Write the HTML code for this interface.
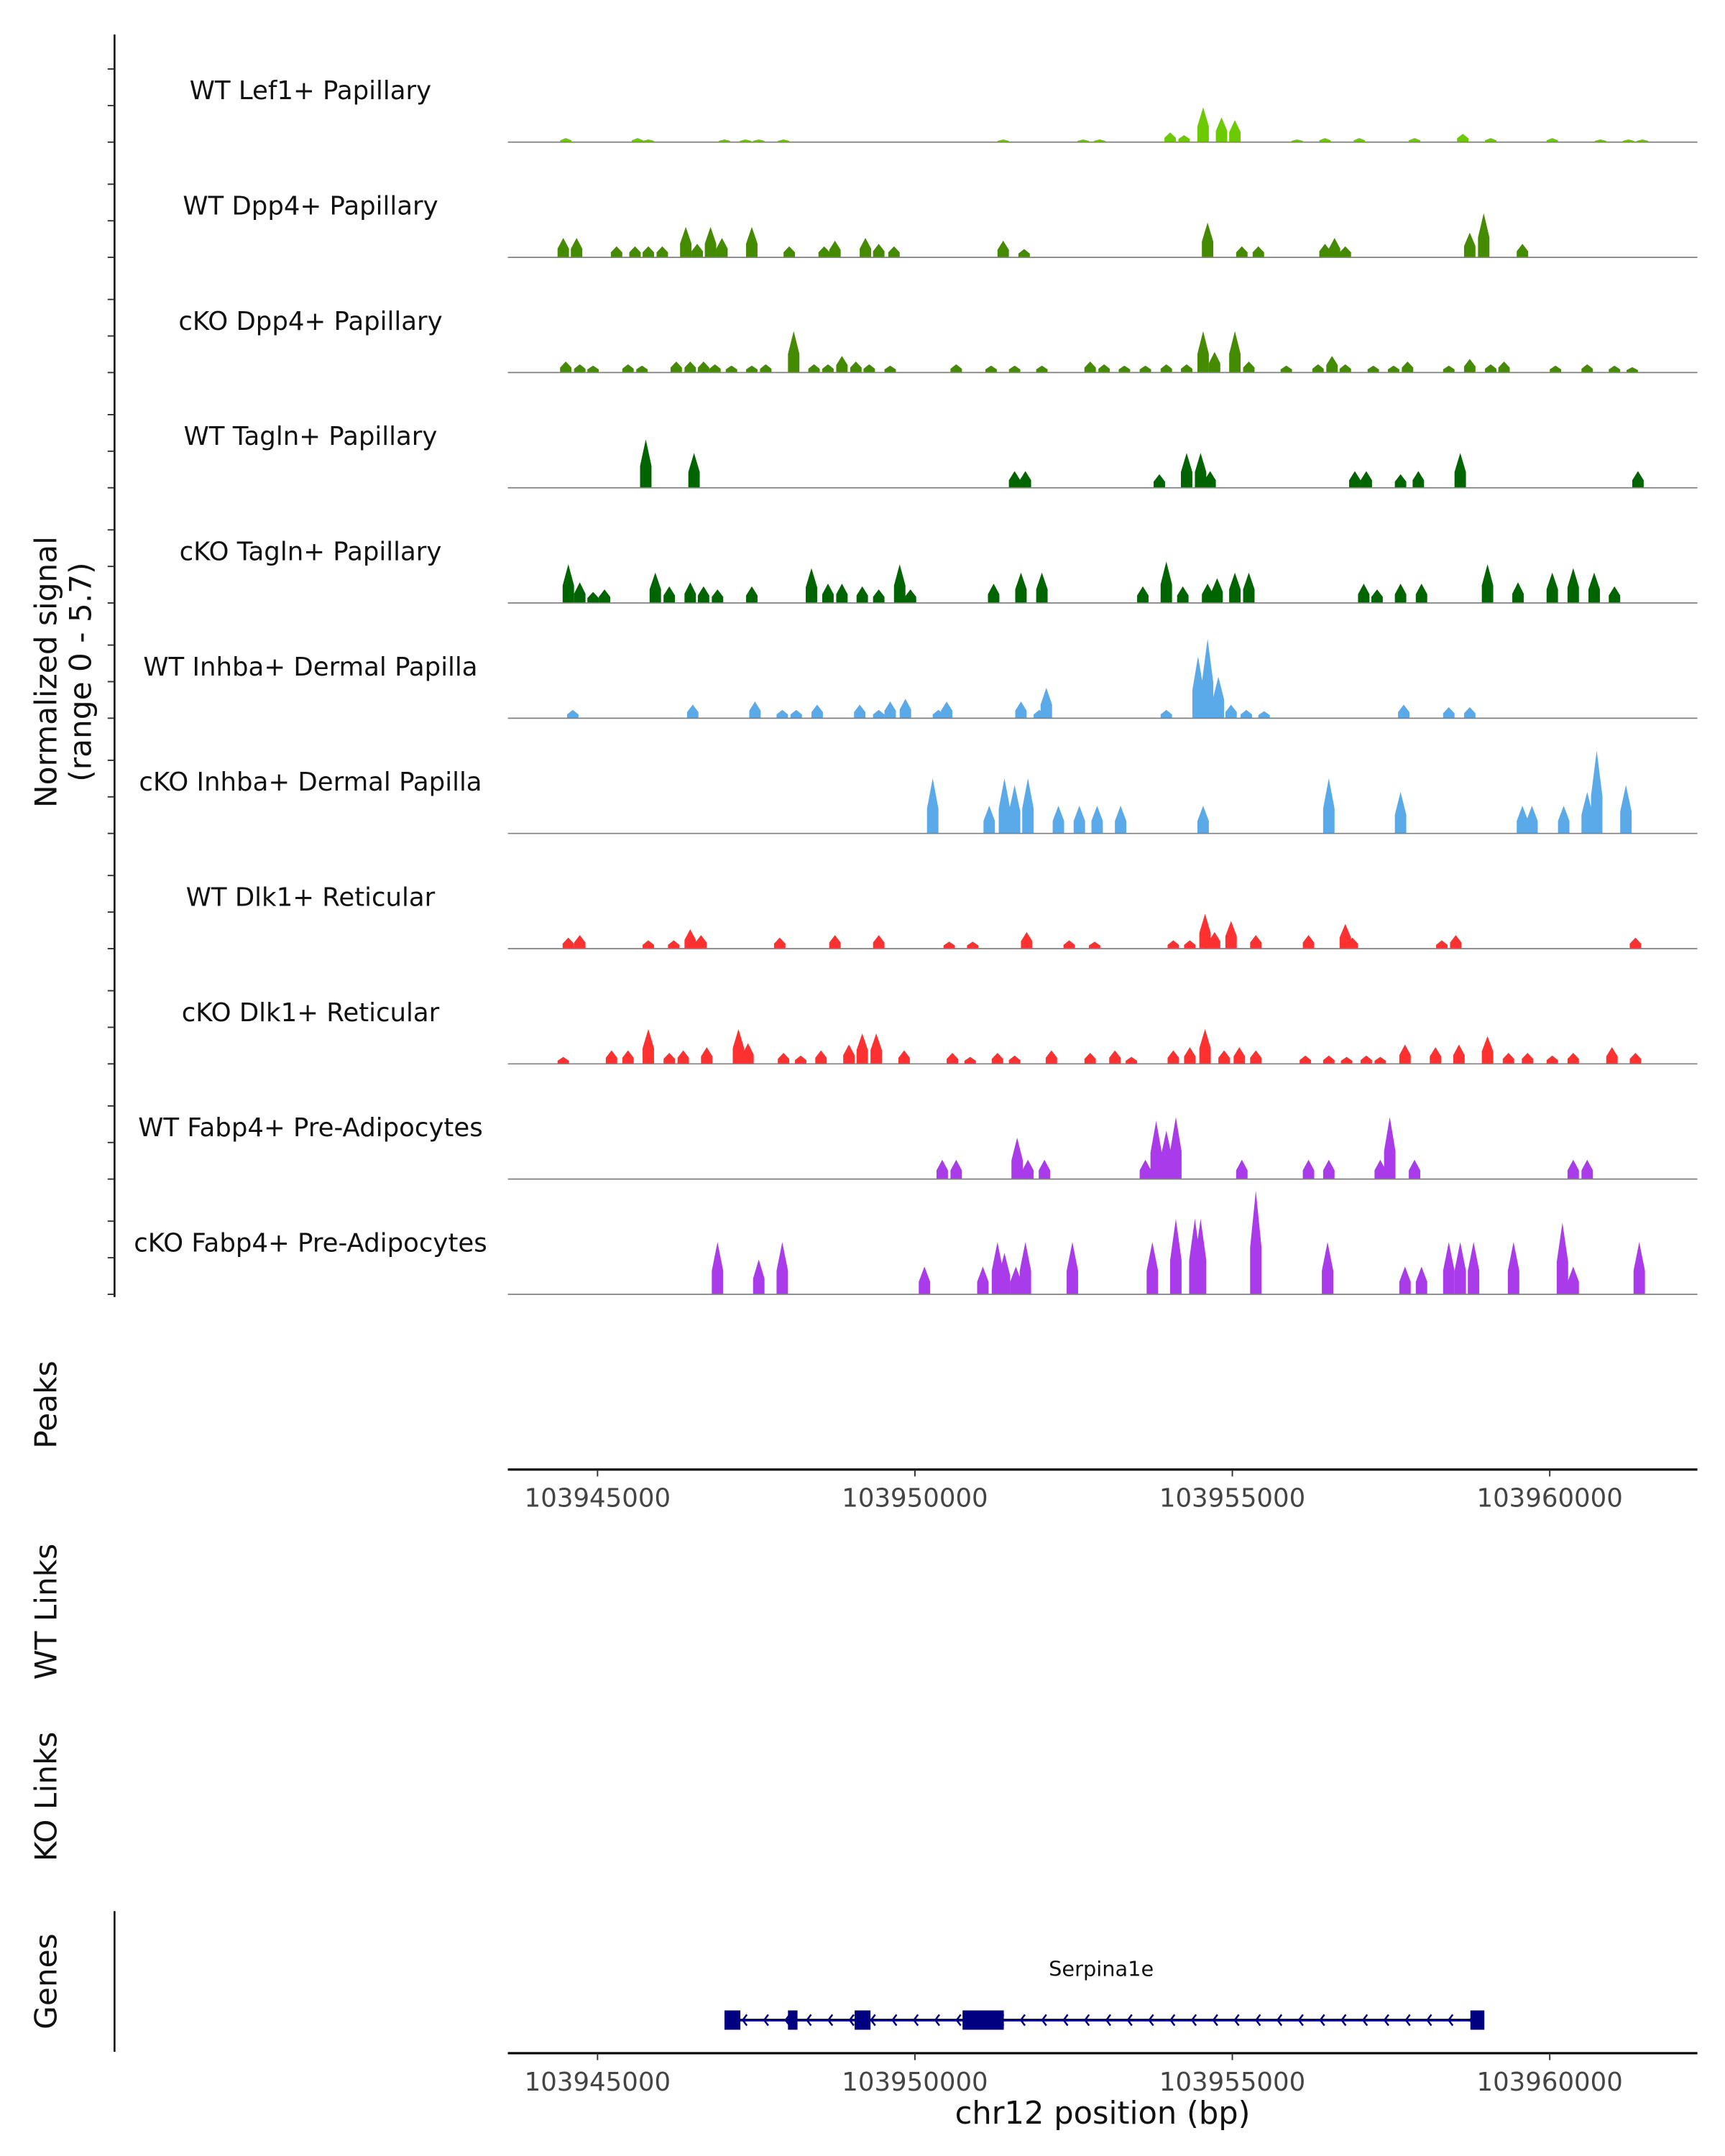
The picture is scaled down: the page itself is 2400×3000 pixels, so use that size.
<!DOCTYPE html>
<html><head><meta charset="utf-8"><style>
html,body{margin:0;padding:0;background:#fff;}
svg{display:block;font-family:"DejaVu Sans","Liberation Sans",sans-serif;}
</style></head><body>
<svg id="chart" width="2400" height="3000" viewBox="0 0 1250 1562.5" preserveAspectRatio="none" xmlns="http://www.w3.org/2000/svg">
<rect width="1250" height="1562.5" fill="#fff"/>
<g id="tracks"></g>
<line x1="83" y1="25" x2="83" y2="940" stroke="#000" stroke-width="1.3"/>
<g id="yticks"></g>
<text transform="translate(41,487) rotate(-90)" text-anchor="middle" font-size="22" fill="#111">Normalized signal</text>
<text transform="translate(66,487) rotate(-90)" text-anchor="middle" font-size="22" fill="#111">(range 0 - 5.7)</text>
<text transform="translate(41,1018) rotate(-90)" text-anchor="middle" font-size="22" fill="#111">Peaks</text>
<text transform="translate(41,1168) rotate(-90)" text-anchor="middle" font-size="22" fill="#111">WT Links</text>
<text transform="translate(41,1302) rotate(-90)" text-anchor="middle" font-size="22" fill="#111">KO Links</text>
<text transform="translate(41,1436) rotate(-90)" text-anchor="middle" font-size="22" fill="#111">Genes</text>
<line x1="83" y1="1385" x2="83" y2="1487" stroke="#000" stroke-width="1.3"/>
<g id="axes"></g>
<g id="gene"></g>
<text x="799" y="1539" text-anchor="middle" font-size="22.5" fill="#111">chr12 position (bp)</text>
</svg>
<script>
// genomic offsets in kb from 103945000
const xTicks = [103945000, 103950000, 103955000, 103960000];
const trackNames = ["WT Lef1+ Papillary","WT Dpp4+ Papillary","cKO Dpp4+ Papillary","WT Tagln+ Papillary","cKO Tagln+ Papillary","WT Inhba+ Dermal Papilla","cKO Inhba+ Dermal Papilla","WT Dlk1+ Reticular","cKO Dlk1+ Reticular","WT Fabp4+ Pre-Adipocytes","cKO Fabp4+ Pre-Adipocytes"];
const trackColors = ["#6CCB00","#458B00","#458B00","#006400","#006400","#5AAAEA","#5AAAEA","#FF3030","#FF3030","#A93BEA","#A93BEA"];
const lef1Pos = [-0.5,0.63,0.8,2.0,2.33,2.54,2.93,6.39,7.65,7.91,9.02,9.24,9.54,9.83,10.04,11.02,11.46,12.0,12.87,13.63,14.07,15.04,15.8,16.24,16.46];
const lef1Val = [0.21,0.21,0.14,0.14,0.14,0.14,0.14,0.14,0.14,0.14,0.5,0.36,1.8,1.28,1.14,0.14,0.21,0.21,0.21,0.43,0.21,0.21,0.14,0.14,0.14];
const dpp4WtPos = [-0.54,-0.33,0.3,0.59,0.8,1.02,1.39,1.57,1.78,1.96,2.43,3.02,3.57,3.74,4.22,4.43,4.67,6.39,6.72,9.61,10.15,10.41,11.46,11.61,11.78,13.74,13.96,14.57];
const dpp4WtVal = [1.0,1.0,0.57,0.57,0.57,0.57,1.57,0.7,1.57,1.0,1.57,0.57,0.57,0.86,1.0,0.7,0.57,0.86,0.43,1.8,0.57,0.57,0.7,1.0,0.57,1.28,2.28,0.7];
const dpp4KoPos = [-0.5,-0.28,-0.07,0.48,0.7,1.24,1.46,1.67,1.85,2.11,2.43,2.65,3.09,3.41,3.63,3.85,4.07,4.28,4.61,5.65,6.2,6.57,7.0,7.76,7.98,8.3,8.63,8.96,9.28,9.54,9.72,10.04,10.26,10.85,11.35,11.57,11.78,12.22,12.54,12.76,13.41,13.74,14.07,14.28,15.09,15.59,16.02,16.3];
const dpp4KoVal = [0.57,0.43,0.36,0.43,0.36,0.57,0.57,0.57,0.43,0.36,0.36,0.43,2.14,0.43,0.43,0.86,0.57,0.43,0.36,0.43,0.36,0.36,0.36,0.57,0.43,0.36,0.36,0.43,0.43,2.14,1.07,2.14,0.57,0.36,0.43,0.86,0.43,0.36,0.36,0.57,0.36,0.7,0.43,0.57,0.36,0.43,0.36,0.28];
const taglnWtPos = [0.76,1.52,6.57,6.74,8.85,9.28,9.5,9.65,11.93,12.11,12.65,12.93,13.59,16.39];
const taglnWtVal = [2.5,1.8,0.86,0.86,0.7,1.8,1.8,0.86,0.86,0.86,0.7,0.86,1.8,0.86];
const taglnKoPos = [-0.46,-0.28,-0.07,0.11,0.91,1.13,1.46,1.67,1.89,2.43,3.37,3.63,3.85,4.17,4.43,4.76,4.93,6.24,6.67,7.0,8.59,8.96,9.22,9.61,9.76,10.04,10.26,12.07,12.28,12.65,12.98,14.02,14.5,15.04,15.37,15.7,16.02];
const taglnKoVal = [2.0,1.07,0.57,0.7,1.57,0.86,1.07,0.86,0.7,0.86,1.8,1.0,1.0,0.86,0.7,2.0,0.7,1.0,1.57,1.57,0.86,2.14,0.86,1.0,1.28,1.57,1.57,1.0,0.7,1.0,1.0,2.0,1.07,1.57,1.8,1.57,0.86];
const inhbaWtPos = [-0.39,1.5,2.48,2.91,3.13,3.46,4.13,4.43,4.61,4.85,5.37,5.5,6.67,6.96,7.07,8.96,9.46,9.61,9.78,9.98,10.22,10.5,12.7,13.41,13.74];
const inhbaWtVal = [0.43,0.7,0.86,0.43,0.43,0.7,0.7,0.43,0.86,1.0,0.43,0.86,0.86,0.43,1.57,0.43,3.2,4.1,2.14,0.7,0.43,0.36,0.7,0.57,0.57];
const inhbaKoPos = [5.28,6.17,6.41,6.57,6.78,7.26,7.59,7.87,8.24,9.54,11.52,12.65,14.57,14.72,15.22,15.59,15.74,16.2];
const inhbaKoVal = [2.85,1.43,2.85,2.5,2.85,1.43,1.43,1.43,1.43,1.43,2.85,2.14,1.43,1.43,1.43,2.14,4.28,2.5];
const dlk1WtPos = [-0.46,-0.28,0.8,1.2,1.46,1.63,2.87,3.74,4.43,5.54,5.91,6.76,7.43,7.83,9.07,9.33,9.57,9.72,9.98,10.37,11.2,11.78,11.89,13.3,13.52,16.35];
const dlk1WtVal = [0.57,0.7,0.43,0.43,1.0,0.7,0.57,0.7,0.7,0.36,0.36,0.86,0.43,0.36,0.43,0.43,1.8,0.86,1.43,0.7,0.7,1.28,0.57,0.43,0.7,0.57];
const dlk1KoPos = [-0.54,0.22,0.48,0.8,1.13,1.35,1.72,2.22,2.37,2.93,3.2,3.52,3.96,4.17,4.39,4.83,5.59,5.87,6.3,6.57,7.15,7.76,8.15,8.41,9.07,9.33,9.57,9.87,10.11,10.37,11.15,11.52,11.8,12.11,12.33,12.72,13.2,13.57,14.02,14.35,14.65,15.04,15.37,15.98,16.35];
const dlk1KoVal = [0.36,0.7,0.7,1.8,0.57,0.7,0.86,1.8,1.07,0.57,0.43,0.7,1.0,1.57,1.57,0.7,0.57,0.36,0.57,0.43,0.7,0.57,0.7,0.36,0.7,0.86,1.8,0.7,0.86,0.7,0.43,0.43,0.36,0.43,0.36,1.0,0.86,1.0,1.43,0.57,0.57,0.43,0.57,0.86,0.57];
const fabpWtPos = [5.43,5.65,6.61,6.78,7.04,8.63,8.8,8.96,9.11,10.15,11.2,11.52,12.33,12.48,12.87,15.37,15.59];
const fabpWtVal = [1.0,1.0,2.14,1.0,1.0,1.0,3.0,2.5,3.2,1.0,1.0,1.0,1.0,3.2,1.0,1.0,1.0];
const fabpKoPos = [1.89,2.54,2.91,5.15,6.07,6.3,6.41,6.59,6.74,7.48,8.74,9.11,9.41,9.5,10.37,11.5,12.72,12.98,13.41,13.59,13.8,14.43,15.2,15.37,16.41];
const fabpKoVal = [2.7,1.8,2.7,1.43,1.43,2.7,2.14,1.43,2.7,2.7,2.7,3.9,3.9,3.9,5.35,2.7,1.43,1.43,2.7,2.7,2.7,2.7,3.7,1.43,2.7];
const trackPos = [lef1Pos,dpp4WtPos,dpp4KoPos,taglnWtPos,taglnKoPos,inhbaWtPos,inhbaKoPos,dlk1WtPos,dlk1KoPos,fabpWtPos,fabpKoPos];
const trackVal = [lef1Val,dpp4WtVal,dpp4KoVal,taglnWtVal,taglnKoVal,inhbaWtVal,inhbaKoVal,dlk1WtVal,dlk1KoVal,fabpWtVal,fabpKoVal];
const geneStartKb = 2.07, geneEndKb = 13.87;
const exonStart = [2.0, 3.0, 4.05, 5.75, 13.75];
const exonEnd = [2.25, 3.15, 4.3, 6.4, 13.97];
const geneName = "Serpina1e";

const NS = "http://www.w3.org/2000/svg";
const X0 = 433, PXKB = 46, YMAX = 5.7, TRACK_H = 80;
const xs = kb => X0 + kb * PXKB;
const xg = bp => xs((bp - 103945000) / 1000);
const ys = (base, v) => base - v / YMAX * TRACK_H;
function el(tag, attrs, parent){const e=document.createElementNS(NS,tag);for(const k in attrs)e.setAttribute(k,attrs[k]);parent.appendChild(e);return e;}

const tracks = document.getElementById('tracks');
const yticks = document.getElementById('yticks');
trackNames.forEach((name, i) => {
  const base = 103 + i * 83.5;
  const g = el('g', {}, tracks);
  
  
  const lab = el('text', {x:225, y:base-31, 'text-anchor':'middle', 'font-size':18.5, fill:'#111'}, g);
  lab.textContent = name;
  
  
  const w = 0.09;
  trackPos[i].forEach((p, j) => {
    const v = trackVal[i][j];
    const pts = [[xs(p-w),base],[xs(p-w),ys(base,v*0.45)],[xs(p),ys(base,v)],[xs(p+w),ys(base,v*0.45)],[xs(p+w),base]];
    const poly = el('polygon', {points: pts.map(q=>q.join(',')).join(' '), fill: trackColors[i]}, g);
    
    
  });
  const bl = el('line', {x1:368, x2:1230, y1:base, y2:base, stroke:'#808080', 'stroke-width':0.9}, g);
  
  
  [0, 26.5, 53].forEach(d => {
    const t = el('line', {x1:78, x2:83, y1:base-d, y2:base-d, stroke:'#333', 'stroke-width':1}, yticks);
    
    
  });
});

const axes = document.getElementById('axes');
[1065, 1488].forEach(ay => {
  const g = el('g', {}, axes);
  
  
  el('line', {x1:368, x2:1230, y1:ay, y2:ay, stroke:'#000', 'stroke-width':1.6}, g);
  xTicks.forEach(t => {
    const x = xg(t);
    el('line', {x1:x, x2:x, y1:ay, y2:ay+5, stroke:'#333', 'stroke-width':1}, g);
    const tl = el('text', {x:x, y:ay+27, 'text-anchor':'middle', 'font-size':18.5, fill:'#444'}, g);
    tl.textContent = t;
    
    
  });
});

const gene = document.getElementById('gene');
const gy = 1464;
const gl = el('line', {x1:xs(geneStartKb)-3, x2:xs(geneEndKb), y1:gy, y2:gy, stroke:'#000080', 'stroke-width':2}, gene);


for (let x = xs(geneStartKb) + 10; x < xs(geneEndKb) - 5; x += 15.5) {
  const a = el('polyline', {points:`${x+3},${gy-4} ${x},${gy} ${x+3},${gy+4}`, fill:'none', stroke:'#000080', 'stroke-width':1.3}, gene);
  
  
}
exonStart.forEach((s, i) => {
  const r = el('rect', {x:xs(s), y:gy-7, width:xs(exonEnd[i])-xs(s), height:14, fill:'#000080'}, gene);
  
  
});
const gt = el('text', {x:798, y:1432, 'text-anchor':'middle', 'font-size':15, fill:'#111'}, gene);
gt.textContent = geneName;


</script>
</body></html>
